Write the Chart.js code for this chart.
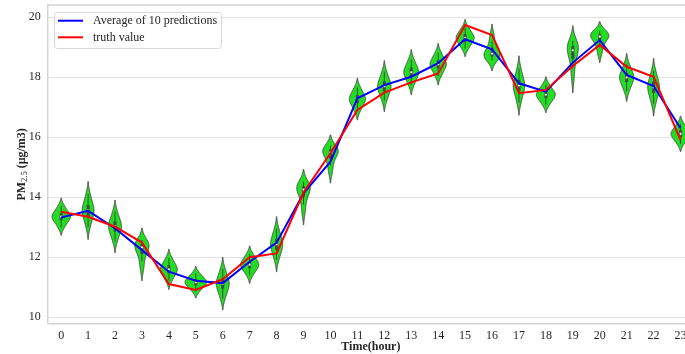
<!DOCTYPE html>
<html><head><meta charset="utf-8">
<script src="https://cdn.jsdelivr.net/npm/chart.js@4.4.0/dist/chart.umd.min.js"></script>
<style>
html,body{margin:0;padding:0;overflow:hidden;background:#fff;width:685px;height:354px}
#wrap{position:absolute;left:0;top:0;width:694px;height:354px}
</style></head><body>
<div id="wrap"><canvas id="c" width="694" height="354"></canvas></div>
<script>
const hours = ['0','1','2','3','4','5','6','7','8','9','10','11','12','13','14','15','16','17','18','19','20','21','22','23'];
const avgPred = [13.32,13.54,12.96,12.23,11.51,11.21,11.13,11.84,12.48,14.12,15.18,17.29,17.73,18.01,18.46,19.26,18.92,17.79,17.51,18.48,19.23,18.07,17.70,16.29];
const truth   = [13.51,13.34,13.01,12.48,11.10,10.90,11.26,11.99,12.12,14.15,15.46,16.90,17.48,17.82,18.12,19.73,19.40,17.46,17.57,18.37,19.07,18.34,18.01,15.90];
const predictions = [
  [12.99,13.12,13.21,13.28,13.33,13.36,13.41,13.48,13.57,13.70],
  [13.00,13.20,13.34,13.44,13.53,13.57,13.66,13.76,13.90,14.10],
  [12.52,12.70,12.83,12.92,13.00,13.04,13.12,13.21,13.34,13.52],
  [11.60,11.85,12.07,12.20,12.29,12.35,12.38,12.45,12.51,12.57],
  [11.21,11.34,11.44,11.52,11.58,11.60,11.66,11.74,11.84,11.97],
  [10.86,10.97,11.05,11.10,11.15,11.17,11.22,11.28,11.35,11.46],
  [10.61,10.79,10.92,11.01,11.09,11.13,11.21,11.30,11.43,11.61],
  [11.39,11.52,11.61,11.68,11.73,11.76,11.81,11.88,11.98,12.10],
  [11.90,12.09,12.22,12.32,12.41,12.44,12.53,12.63,12.76,12.95],
  [13.48,13.75,13.98,14.11,14.21,14.28,14.31,14.38,14.44,14.51],
  [14.82,15.05,15.25,15.37,15.45,15.51,15.54,15.60,15.66,15.71],
  [16.87,17.01,17.11,17.19,17.25,17.28,17.34,17.42,17.52,17.66],
  [17.21,17.38,17.50,17.60,17.67,17.71,17.78,17.88,18.00,18.18],
  [17.73,17.88,17.99,18.08,18.15,18.17,18.24,18.33,18.44,18.59],
  [18.03,18.17,18.27,18.35,18.41,18.44,18.50,18.58,18.68,18.82],
  [18.95,19.07,19.16,19.23,19.29,19.31,19.37,19.44,19.53,19.65],
  [18.56,18.61,18.67,18.72,18.75,18.81,18.89,19.00,19.20,19.42],
  [17.15,17.35,17.50,17.61,17.70,17.73,17.82,17.93,18.08,18.28],
  [17.07,17.19,17.28,17.34,17.40,17.42,17.48,17.54,17.63,17.75],
  [17.97,18.29,18.57,18.73,18.85,18.93,18.97,19.05,19.13,19.21],
  [18.78,18.98,19.15,19.25,19.32,19.37,19.39,19.44,19.49,19.54],
  [17.53,17.69,17.81,17.90,17.97,18.00,18.07,18.16,18.28,18.44],
  [17.11,17.31,17.45,17.55,17.64,17.68,17.77,17.87,18.01,18.21],
  [15.77,15.89,15.97,16.04,16.09,16.12,16.17,16.24,16.32,16.44]
];
const yTicks = [10,12,14,16,18,20];
const yMin = 9.777, yMax = 20.4;
const labelAvg = 'Average of 10 predictions';
const labelTruth = 'truth value';
const xTitle = 'Time(hour)';
const yTitleMain = 'PM', yTitleSub = '2.5', yTitleRest = ' (μg/m3)';

const SERIF = '"Liberation Serif","Times New Roman",serif';
const TXT = '#262626';

function kde(s){
  const n=s.length, mean=s.reduce((a,b)=>a+b,0)/n;
  const sd=Math.sqrt(s.reduce((a,b)=>a+(b-mean)*(b-mean),0)/(n-1));
  const bw=sd*Math.pow(n,-0.2);
  const lo=Math.min(...s)-2*bw, hi=Math.max(...s)+2*bw;
  const g=[],d=[];
  for(let i=0;i<100;i++){
    const y=lo+(hi-lo)*i/99; let v=0;
    for(const x of s){const z=(y-x)/bw; v+=Math.exp(-0.5*z*z);}
    g.push(y); d.push(v/(n*bw*Math.sqrt(2*Math.PI)));
  }
  return {g,d};
}
function pct(sorted,p){const idx=p*(sorted.length-1);const lo=Math.floor(idx),hi=Math.ceil(idx);return sorted[lo]+(sorted[hi]-sorted[lo])*(idx-lo);}

const violinPlugin={
  id:'violins',
  beforeDatasetsDraw(chart){
    const {ctx,chartArea:a,scales:{x,y}}=chart;
    ctx.save();
    ctx.strokeStyle='#d4d4d4'; ctx.lineWidth=1.5;
    ctx.strokeRect(a.left,a.top,a.right-a.left,a.bottom-a.top);
    ctx.beginPath(); ctx.rect(a.left,a.top,a.right-a.left,a.bottom-a.top); ctx.clip();
    const ks=predictions.map(kde);
    const gmax=Math.max(...ks.map(k=>Math.max(...k.d)));
    const catW=x.getPixelForValue(1)-x.getPixelForValue(0);
    ks.forEach((k,i)=>{
      const cx=x.getPixelForValue(i);
      ctx.beginPath();
      for(let j=0;j<k.g.length;j++){const py=y.getPixelForValue(k.g[j]);const h=k.d[j]/gmax*0.4*catW; if(j===0)ctx.moveTo(cx-h,py);else ctx.lineTo(cx-h,py);}
      for(let j=k.g.length-1;j>=0;j--){const py=y.getPixelForValue(k.g[j]);const h=k.d[j]/gmax*0.4*catW; ctx.lineTo(cx+h,py);}
      ctx.closePath();
      ctx.fillStyle='#20df20'; ctx.fill();
      ctx.strokeStyle='#4a4a4a'; ctx.lineWidth=1; ctx.stroke();
      const s=[...predictions[i]].sort((p,q)=>p-q);
      const q1=pct(s,0.25),q2=pct(s,0.5),q3=pct(s,0.75),iqr=q3-q1;
      const w1=Math.min(...s.filter(v=>v>=q1-1.5*iqr)), w2=Math.max(...s.filter(v=>v<=q3+1.5*iqr));
      ctx.strokeStyle='#474747';
      ctx.lineWidth=1; ctx.beginPath(); ctx.moveTo(cx,y.getPixelForValue(w1)); ctx.lineTo(cx,y.getPixelForValue(w2)); ctx.stroke();
      ctx.lineWidth=3; ctx.beginPath(); ctx.moveTo(cx,y.getPixelForValue(q1)); ctx.lineTo(cx,y.getPixelForValue(q3)); ctx.stroke();
      ctx.beginPath(); ctx.arc(cx,y.getPixelForValue(q2),1.3,0,Math.PI*2); ctx.fillStyle='#ffffff'; ctx.fill();
      ctx.lineWidth=0.5; ctx.strokeStyle='#474747'; ctx.stroke();
    });
    ctx.restore();
  },
  afterDraw(chart){
    const {ctx,chartArea:a}=chart;
    ctx.save();
    const lx=54.5,ly=12.5,lw=167,lh=36,r=3;
    ctx.beginPath();
    ctx.moveTo(lx+r,ly);ctx.lineTo(lx+lw-r,ly);ctx.arcTo(lx+lw,ly,lx+lw,ly+r,r);
    ctx.lineTo(lx+lw,ly+lh-r);ctx.arcTo(lx+lw,ly+lh,lx+lw-r,ly+lh,r);
    ctx.lineTo(lx+r,ly+lh);ctx.arcTo(lx,ly+lh,lx,ly+lh-r,r);
    ctx.lineTo(lx,ly+r);ctx.arcTo(lx,ly,lx+r,ly,r);ctx.closePath();
    ctx.fillStyle='rgba(255,255,255,0.85)';ctx.fill();
    ctx.strokeStyle='#d9d9d9';ctx.lineWidth=1;ctx.stroke();
    const items=[[labelAvg,'#0000ff',20.7],[labelTruth,'#ff0000',37.3]];
    ctx.font='12px '+SERIF; ctx.textBaseline='middle'; ctx.textAlign='left';
    items.forEach(([t,c,yy])=>{
      ctx.strokeStyle=c;ctx.lineWidth=2;ctx.beginPath();ctx.moveTo(58,yy);ctx.lineTo(83,yy);ctx.stroke();
      ctx.fillStyle=TXT;ctx.fillText(t,93,yy+0.5);
    });
    ctx.font='bold 12px '+SERIF; ctx.textAlign='center'; ctx.fillStyle=TXT;
    ctx.fillText(xTitle,(a.left+a.right)/2,347);
    ctx.translate(22,(a.top+a.bottom)/2); ctx.rotate(-Math.PI/2);
    ctx.textAlign='left';
    ctx.font='bold 12px '+SERIF; const w1=ctx.measureText(yTitleMain).width, w3=ctx.measureText(yTitleRest).width;
    ctx.font='8.5px '+SERIF; const w2=ctx.measureText(yTitleSub).width;
    let sx=-(w1+w2+w3)/2;
    ctx.font='bold 12px '+SERIF; ctx.fillText(yTitleMain,sx,0); sx+=w1;
    ctx.font='8.5px '+SERIF; ctx.fillText(yTitleSub,sx,3); sx+=w2;
    ctx.font='bold 12px '+SERIF; ctx.fillText(yTitleRest,sx,0);
    ctx.restore();
  }
};

new Chart(document.getElementById('c'),{
  type:'line',
  data:{labels:hours,datasets:[
    {label:labelAvg,data:avgPred,borderColor:'#0000ff',borderWidth:2,pointRadius:0,tension:0,fill:false,order:2},
    {label:labelTruth,data:truth,borderColor:'#ff0000',borderWidth:2,pointRadius:0,tension:0,fill:false,order:1}
  ]},
  options:{
    responsive:false,animation:false,devicePixelRatio:1,
    layout:{padding:{top:5,right:0,left:0,bottom:0}},
    plugins:{legend:{display:false},tooltip:{enabled:false}},
    scales:{
      x:{type:'category',offset:true,grid:{display:false,drawTicks:false},border:{display:false},
         ticks:{font:{family:SERIF,size:12},color:TXT,padding:5,maxRotation:0,autoSkip:false},
         afterFit(s){s.height=30.3;s.paddingLeft=0;s.paddingRight=0;}},
      y:{min:yMin,max:yMax,afterBuildTicks(s){s.ticks=yTicks.map(v=>({value:v}));},
         grid:{color:'#e2e2e2',drawTicks:false,lineWidth:1},border:{display:false},
         ticks:{font:{family:SERIF,size:12},color:TXT,padding:7},
         afterFit(s){s.width=47.7;s.paddingTop=0;s.paddingBottom=0;}}
    }
  },
  plugins:[violinPlugin]
});
</script>
</body></html>
